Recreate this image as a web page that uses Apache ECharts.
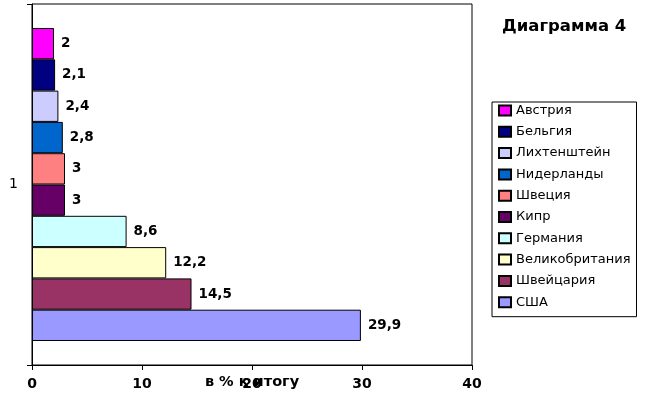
<!DOCTYPE html>
<html>
<head>
<meta charset="utf-8">
<script src="https://cdn.jsdelivr.net/npm/echarts@6/dist/echarts.min.js"></script>
<style>html,body{margin:0;padding:0;background:#fff}#c{width:652px;height:400px}</style>
</head>
<body>
<div id="c"></div>
<script>
const categories = ['1'];
const seriesNames = ['Австрия','Бельгия','Лихтенштейн','Нидерланды','Швеция','Кипр','Германия','Великобритания','Швейцария','США'];
const seriesValues = [2, 2.1, 2.4, 2.8, 3, 3, 8.6, 12.2, 14.5, 29.9];
const seriesColors = ['#FF00FF','#000080','#CCCCFF','#0066CC','#FF8080','#660066','#CCFFFF','#FFFFCC','#993366','#9999FF'];
const xTicks = { min: 0, max: 40, interval: 10 };
const titleText = 'Диаграмма 4';
const axisName = 'в % к итогу';

const FONT = 'DejaVu Sans';
const chart = echarts.init(document.getElementById('c'), null, { renderer: 'canvas' });
const series = seriesNames.map((name, i) => ({
  name: name,
  type: 'bar',
  data: [seriesValues[i]],
  barGap: '0%',
  barCategoryGap: '13.3%',
  itemStyle: { color: seriesColors[i], borderColor: '#000', borderWidth: 1 },
  label: {
    show: true, position: 'right', distance: 7,
    color: '#000', fontFamily: FONT, fontWeight: 'bold', fontSize: 13.5,
    formatter: p => String(p.value).replace('.', ',')
  },
  animation: false
}));
chart.setOption({
  animation: false,
  title: {
    text: titleText, left: 497, top: 13,
    textStyle: { fontFamily: FONT, fontWeight: 'bold', fontSize: 16.5, color: '#000' }
  },
  legend: {
    orient: 'vertical', left: 492, top: 102,
    width: 145,
    padding: [2, 6, 8, 6],
    itemWidth: 12, itemHeight: 10, itemGap: 8.3,
    icon: 'rect',
    borderColor: '#000', borderWidth: 1,
    textStyle: { fontFamily: FONT, fontSize: 13, color: '#000', lineHeight: 13 },
    data: seriesNames
  },
  grid: {
    left: 32, right: 180, top: 4, bottom: 35,
    containLabel: false, outerBoundsMode: 'none',
    show: true, borderColor: '#000', borderWidth: 1, backgroundColor: '#fff'
  },
  xAxis: {
    type: 'value', min: xTicks.min, max: xTicks.max, interval: xTicks.interval,
    name: axisName, nameLocation: 'middle', nameGap: 10, nameMoveOverlap: false,
    nameTextStyle: { fontFamily: FONT, fontWeight: 'bold', fontSize: 14.5, color: '#000' },
    axisLine: { show: true, lineStyle: { color: '#000', width: 1 } },
    axisTick: { show: true, length: 5, lineStyle: { color: '#000' } },
    axisLabel: { fontFamily: FONT, fontWeight: 'bold', fontSize: 14, color: '#000', margin: 12 },
    splitLine: { show: false }
  },
  yAxis: {
    type: 'category', data: categories,
    axisLine: { show: true, lineStyle: { color: '#000', width: 1 } },
    axisTick: { show: true, length: 5, lineStyle: { color: '#000' } },
    axisLabel: { fontFamily: FONT, fontSize: 14, color: '#000', margin: 14 },
    splitLine: { show: false }
  },
  series: series
});
</script>
</body>
</html>
